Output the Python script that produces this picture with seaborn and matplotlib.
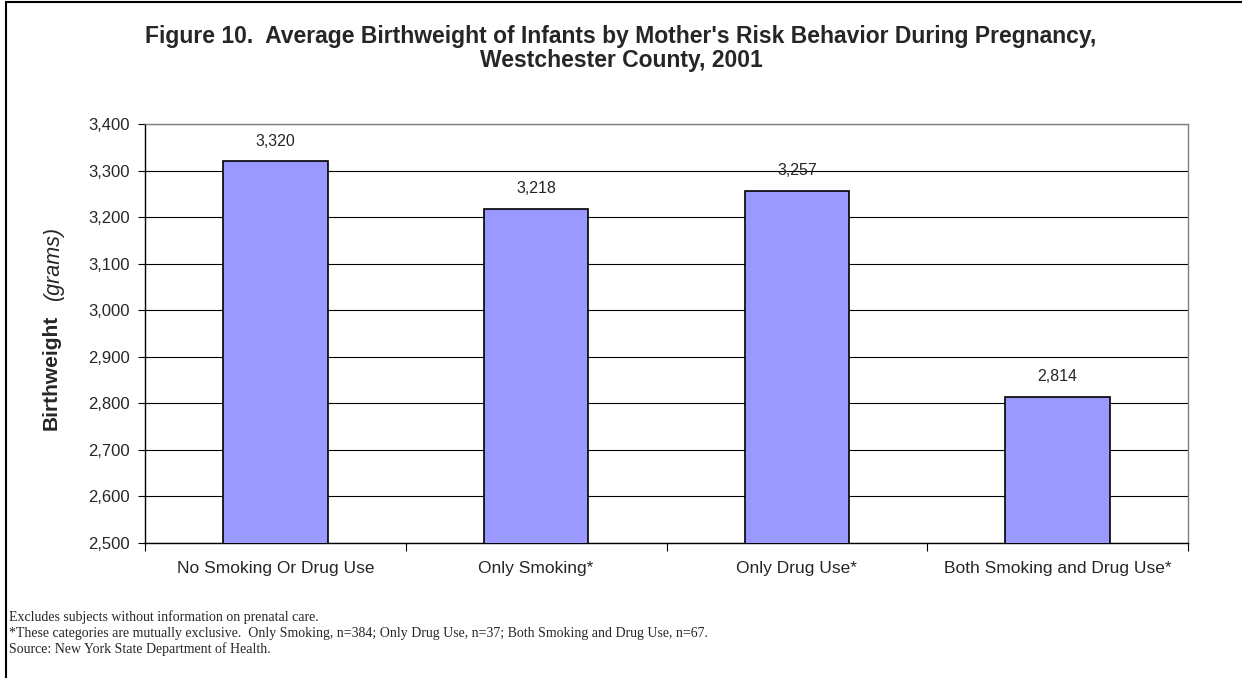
import numpy as np
import pandas as pd
import matplotlib
matplotlib.use("Agg")
import matplotlib.pyplot as plt
import seaborn as sns
from matplotlib.ticker import FuncFormatter, FixedLocator
from matplotlib.lines import Line2D

categories = ["No Smoking Or Drug Use", "Only Smoking*", "Only Drug Use*", "Both Smoking and Drug Use*"]
birthweight = [3320, 3218, 3257, 2814]
yticks = list(range(2500, 3401, 100))

title_lines = ["Figure 10.  Average Birthweight of Infants by Mother's Risk Behavior During Pregnancy,",
               "Westchester County, 2001"]
notes = [
    "Excludes subjects without information on prenatal care.",
    "*These categories are mutually exclusive.  Only Smoking, n=384; Only Drug Use, n=37; Both Smoking and Drug Use, n=67.",
    "Source: New York State Department of Health.",
]

sns.set_style("white")
plt.rcParams['font.family'] = ['Liberation Sans', 'DejaVu Sans']

df = pd.DataFrame({"category": categories, "weight": birthweight})

W, H = 1242, 678
fig = plt.figure(figsize=(W / 100, H / 100), dpi=100)
ax = fig.add_axes([145 / W, 1 - 543 / H, (1188 - 145) / W, (543 - 124) / H])

sns.barplot(data=df, x="category", y="weight", color="#9999FF", saturation=1,
            width=0.4, edgecolor="black", linewidth=1.2, ax=ax, zorder=3)

ax.set_ylim(2500, 3400)
ax.set_xlim(-0.5, 3.5)
ax.set_yticks(yticks)
ax.yaxis.set_major_formatter(FuncFormatter(lambda v, p: f"{int(v):,}"))
ax.grid(axis="y", color="black", linewidth=0.8, zorder=0)
ax.set_axisbelow(True)
ax.set_xlabel("")
ax.set_ylabel("")

ax.tick_params(axis="y", which="major", length=5, width=0.8, color="black",
               direction="out", labelsize=12, pad=6, left=True)
ax.tick_params(axis="x", which="major", length=0, labelsize=12.5, pad=13)
ax.xaxis.set_minor_locator(FixedLocator([-0.5, 0.5, 1.5, 2.5, 3.5]))
ax.tick_params(axis="x", which="minor", length=6, width=0.8, color="black",
               direction="out", bottom=True)

for side in ["left", "bottom"]:
    ax.spines[side].set_color("black")
    ax.spines[side].set_linewidth(1.0)
for side in ["top", "right"]:
    ax.spines[side].set_color("#808080")
    ax.spines[side].set_linewidth(1.0)

for i, v in enumerate(birthweight):
    ax.annotate(f"{v:,}", (i, v), xytext=(0, 9), textcoords="offset points",
                ha="center", va="bottom", fontsize=11.5)

for k, line in enumerate(title_lines):
    fig.text(0.5, 1 - (37 + 24 * k) / H, line, ha="center", va="center",
             fontsize=16.5, fontweight="bold")

fig.text(51 / W, 1 - 372 / H, "Birthweight", rotation=90, ha="center", va="center",
         fontsize=15, fontweight="bold")
fig.text(53 / W, 1 - 263 / H, "(grams)", rotation=90, ha="center", va="center",
         fontsize=15.5, fontstyle="italic")

for k, note in enumerate(notes):
    fig.text(9 / W, 1 - (617 + 16 * k) / H, note, ha="left", va="center", fontsize=10,
             family=['Liberation Serif', 'DejaVu Serif'])

# chart frame (left and top edges visible in the reference)
fig.add_artist(Line2D([6 / W, 6 / W], [0, 1 - 2 / H], transform=fig.transFigure,
                      color="black", linewidth=1.5))
fig.add_artist(Line2D([6 / W, 1], [1 - 2 / H, 1 - 2 / H], transform=fig.transFigure,
                      color="black", linewidth=1.5))

fig.savefig("out.png", dpi=100)
